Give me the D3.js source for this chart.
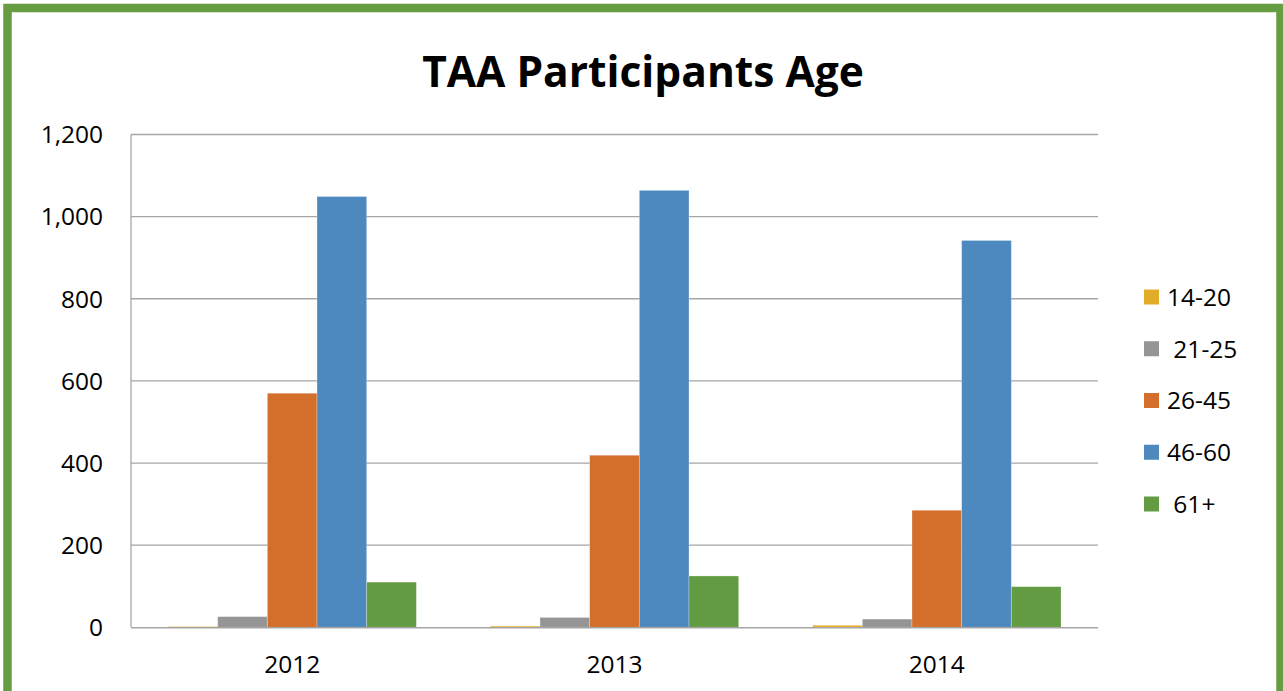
<!DOCTYPE html>
<html><head><meta charset="utf-8">
<script src="https://cdn.jsdelivr.net/npm/d3@7"></script>
<style>html,body{margin:0;padding:0;background:#fff;}svg{display:block;}</style>
</head><body>
<script>
const years = ["2012","2013","2014"];
const groups = ["14-20","21-25","26-45","46-60","61+"];
const legendLabels = ["14-20"," 21-25","26-45","46-60"," 61+"];
const colors = ["#E3AC28","#959595","#D46E2B","#4D89BE","#629B41"];
const v1420 = [2, 3, 5];
const v2125 = [26, 24, 20];
const v2645 = [570, 419, 285];
const v4660 = [1049, 1064, 942];
const v61 = [110, 125, 99];
const yTicks = [0,200,400,600,800,1000,1200];
const title = "TAA Participants Age";

(function(){
const series = [v1420, v2125, v2645, v4660, v61];
const W = 1283, H = 691;
const font = "'Open Sans', sans-serif";
const svg = d3.select("body").append("svg").attr("width", W).attr("height", H);

// border
svg.append("rect").attr("x", 7.5).attr("y", 8).attr("width", 1273).attr("height", 720)
  .attr("fill", "#fff").attr("stroke", "#669C42").attr("stroke-width", 8.5);

const pL = 131, pR = 1098, pT = 134.5, pB = 627.3;
const x0 = d3.scaleBand().domain(years).range([pL, pR]).paddingInner(0.2295).paddingOuter(0.1148);
const x1 = d3.scaleBand().domain(groups).range([0, x0.bandwidth()]);
const y = d3.scaleLinear().domain([0, 1200]).range([pB, pT]);

// gridlines
svg.append("g").selectAll("line").data(yTicks.filter(d => d > 0)).join("line")
  .attr("x1", pL).attr("x2", pR).attr("y1", d => y(d)).attr("y2", d => y(d))
  .attr("stroke", "#A6A6A6").attr("stroke-width", 1.3);

// bars
const rows = years.map((yr, i) => ({ yr, vals: series.map(s => s[i]) }));
svg.append("g").selectAll("g").data(rows).join("g")
  .attr("transform", d => `translate(${x0(d.yr)},0)`)
  .selectAll("rect").data(d => d.vals.map((v, j) => ({ v, j }))).join("rect")
  .attr("x", d => x1(groups[d.j])).attr("width", x1.bandwidth())
  .attr("y", d => y(d.v)).attr("height", d => pB - y(d.v))
  .attr("fill", d => colors[d.j])
  .attr("stroke", "rgba(255,255,255,0.35)").attr("stroke-width", 0.8);

// axes lines
svg.append("line").attr("x1", pL).attr("x2", pL).attr("y1", pT).attr("y2", pB)
  .attr("stroke", "#A6A6A6").attr("stroke-width", 1.3);
svg.append("line").attr("x1", pL).attr("x2", pR).attr("y1", pB + 0.5).attr("y2", pB + 0.5)
  .attr("stroke", "#A6A6A6").attr("stroke-width", 1.5);

// y labels
svg.append("g").selectAll("text").data(yTicks).join("text")
  .attr("x", 103).attr("y", d => y(d)).attr("dy", "0.36em")
  .attr("text-anchor", "end").attr("font-family", font).attr("font-size", 24.5)
  .attr("fill", "#000").text(d => d3.format(",")(d));

// x labels
svg.append("g").selectAll("text").data(years).join("text")
  .attr("x", d => x0(d) + x0.bandwidth() / 2).attr("y", 673)
  .attr("text-anchor", "middle").attr("font-family", font).attr("font-size", 24.5)
  .attr("fill", "#000").text(d => d);

// title
svg.append("text").attr("x", 643).attr("y", 87).attr("text-anchor", "middle")
  .attr("font-family", font).attr("font-weight", "bold").attr("font-size", 42.5)
  .attr("fill", "#000").text(title);

// legend
const lg = svg.append("g");
const ly = d3.scalePoint().domain(groups).range([297, 504]);
lg.selectAll("rect").data(groups).join("rect")
  .attr("x", 1144).attr("y", d => ly(d) - 7.5).attr("width", 15).attr("height", 15)
  .attr("fill", (d, i) => colors[i]);
lg.selectAll("text").data(groups).join("text")
  .attr("x", 1167).attr("y", d => ly(d)).attr("dy", "0.36em")
  .attr("font-family", font).attr("font-size", 24.5).attr("fill", "#000")
  .style("white-space", "pre")
  .text((d, i) => legendLabels[i]);
})();
</script>
</body></html>
